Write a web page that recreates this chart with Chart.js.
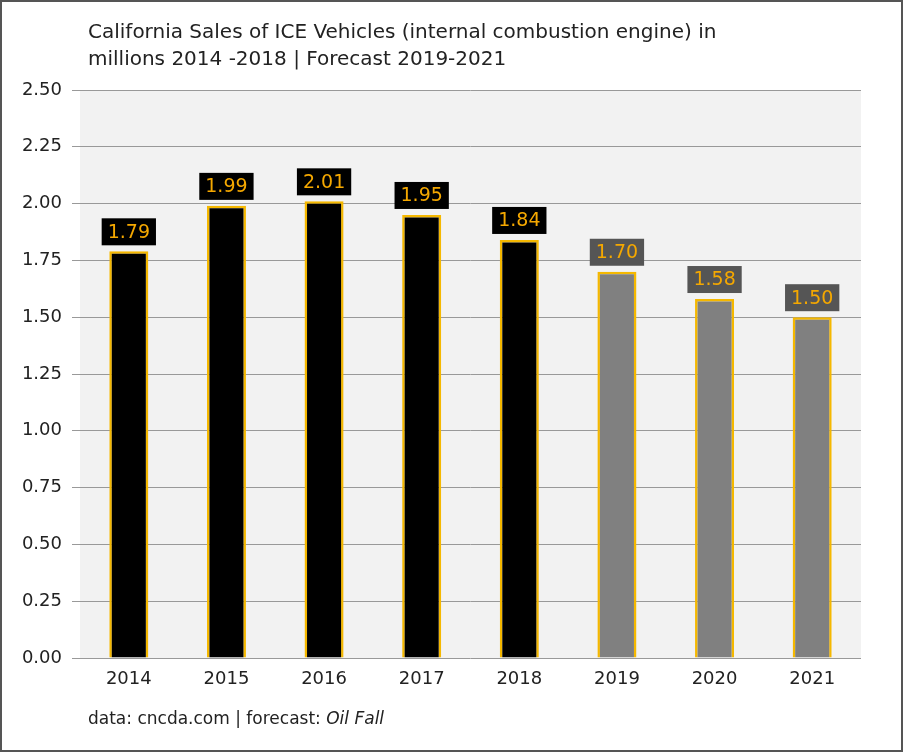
<!DOCTYPE html>
<html><head><meta charset="utf-8">
<script src="https://cdn.jsdelivr.net/npm/chart.js@4/dist/chart.umd.min.js"></script>
<style>html,body{margin:0;padding:0;background:#fff}#w{width:903px;height:752px}</style>
</head><body><div id="w"><canvas id="c"></canvas></div>
<script>
const categories = ['2014','2015','2016','2017','2018','2019','2020','2021'];
const sales = [1.79,1.99,2.01,1.95,1.84,1.70,1.58,1.50];
const isForecast = [false,false,false,false,false,true,true,true];
const FONT = "'DejaVu Sans', sans-serif";

const deco = {
  id:'deco',
  beforeDraw(ch){
    const {ctx, chartArea:a} = ch;
    ctx.save();
    ctx.fillStyle='#fff'; ctx.fillRect(0,0,ch.width,ch.height);
    ctx.fillStyle='#f2f2f2'; ctx.fillRect(a.left,a.top,a.right-a.left,a.bottom-a.top);
    ctx.restore();
  },
  afterDraw(ch){
    const {ctx} = ch;
    ctx.save();
    ctx.strokeStyle='#555'; ctx.lineWidth=2; ctx.strokeRect(1,1,ch.width-2,ch.height-2);
    ctx.fillStyle='#222'; ctx.font='20px '+FONT; ctx.textBaseline='middle';
    ctx.fillText('California Sales of ICE Vehicles (internal combustion engine) in',88,33);
    ctx.fillText('millions 2014 -2018 | Forecast 2019-2021',88,60);
    ctx.font='17px '+FONT;
    const t='data: cncda.com | forecast: ';
    ctx.fillText(t,88,720);
    const w=ctx.measureText(t).width;
    ctx.font='italic 17px '+FONT;
    ctx.fillText('Oil Fall',88+w,720);
    // labels
    const meta=ch.getDatasetMeta(0);
    ctx.font='19px '+FONT; ctx.textAlign='center';
    meta.data.forEach((b,i)=>{
      const txt=sales[i].toFixed(2);
      const tw=ctx.measureText(txt).width+12;
      const h=27, bottom=b.y-6;
      ctx.fillStyle=isForecast[i]?'#555555':'#000';
      ctx.fillRect(b.x-tw/2,bottom-h,tw,h);
      ctx.fillStyle='#f5a800';
      ctx.fillText(txt,b.x,bottom-h/2+1);
    });
    ctx.restore();
  }
};

new Chart(document.getElementById('c'),{
  type:'bar',
  data:{labels:categories,datasets:[{data:sales,
    backgroundColor:isForecast.map(f=>f?'#808080':'#000'),
    borderColor:'#f5b800',borderWidth:2.5,
    barPercentage:0.4,categoryPercentage:1}]},
  options:{responsive:true,maintainAspectRatio:false,animation:false,
    layout:{padding:{top:90,bottom:54,right:42,left:0}},
    plugins:{legend:{display:false},tooltip:{enabled:false}},
    scales:{
      x:{grid:{display:false},border:{display:false},
        ticks:{color:'#222',font:{family:FONT,size:18}},
        afterFit(s){s.height=40;}},
      y:{min:0,max:2.5,grid:{color:'#999',lineWidth:1},border:{display:false},
        ticks:{stepSize:0.25,color:'#222',font:{family:FONT,size:18},callback:v=>v.toFixed(2),padding:10},
        afterFit(s){s.width=80;}}
    }},
  plugins:[deco]
});
</script></body></html>
